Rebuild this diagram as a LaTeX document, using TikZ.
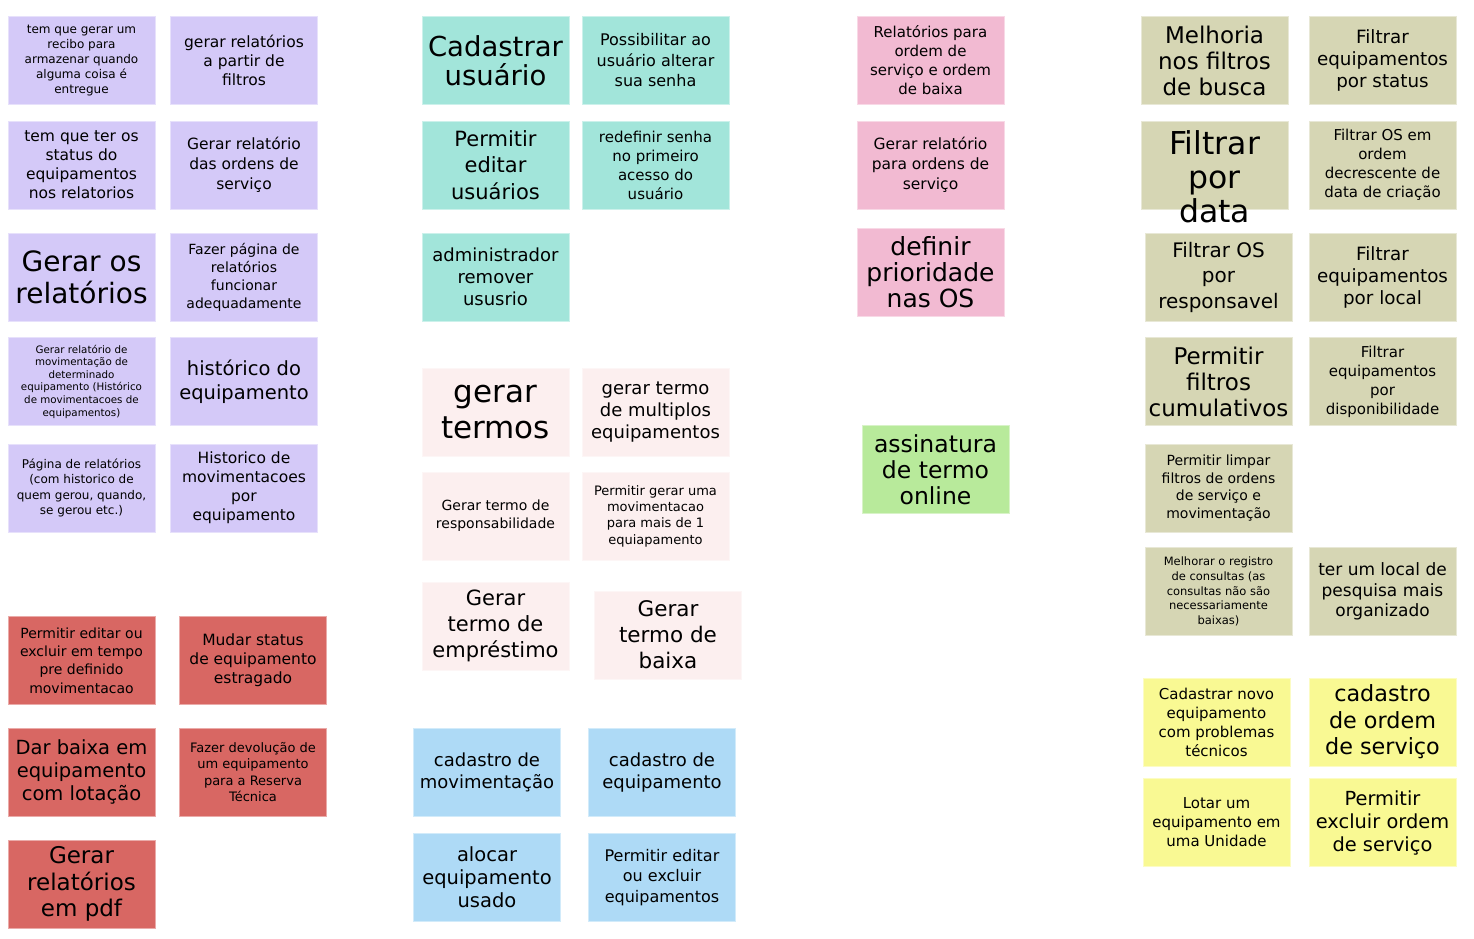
\documentclass[tikz,border=0pt]{standalone}
\usepackage{fontspec}
\setmainfont{DejaVu Sans}
\definecolor{cP}{HTML}{D4C9F8}
\definecolor{cT}{HTML}{A2E5DA}
\definecolor{cL}{HTML}{FCEFEF}
\definecolor{cB}{HTML}{AEDAF6}
\definecolor{cK}{HTML}{F2BAD2}
\definecolor{cG}{HTML}{B8EA9B}
\definecolor{cH}{HTML}{D6D6B4}
\definecolor{cY}{HTML}{F9F993}
\definecolor{cR}{HTML}{D86763}
\newcommand\fsz[2]{\fontsize{#1}{#2}\selectfont}
\tikzset{
  note/.style={rectangle, minimum width=147pt, minimum height=88pt, inner sep=0pt,
    align=center, text=black, fill=#1, draw=#1!55!white, line width=0.8pt},
  plain/.style={inner sep=0pt, align=center, text=black}
}
\begin{document}
\begin{tikzpicture}[x=1pt,y=-1pt]
\useasboundingbox (0,0) rectangle (1474,938);
\fill[white] (0,0) rectangle (1474,938);
% purple
\node[note=cP, font={\fsz{12}{15}}] (p1) at (81.5,60.5) {tem que gerar um\\recibo para\\armazenar quando\\alguma coisa é\\entregue};
\node[note=cP, font={\fsz{15.5}{19}}] (p2) at (244,60.5) {gerar relatórios\\a partir de\\filtros};
\node[note=cP, font={\fsz{15.5}{19}}] (p3) at (81.5,165) {tem que ter os\\status do\\equipamentos\\nos relatorios};
\node[note=cP, font={\fsz{15.5}{20}}] (p4) at (244,165) {Gerar relatório\\das ordens de\\serviço};
\node[note=cP, font={\fsz{28}{32}}] (p5) at (81.5,277) {Gerar os\\relatórios};
\node[note=cP, font={\fsz{14}{18}}] (p6) at (244,277) {Fazer página de\\relatórios\\funcionar\\adequadamente};
\node[note=cP, font={\fsz{10.3}{12.6}}] (p7) at (81.5,381.5) {Gerar relatório de\\movimentação de\\determinado\\equipamento (Histórico\\de movimentacoes de\\equipamentos)};
\node[note=cP, font={\fsz{19.5}{24}}] (p8) at (244,381.5) {histórico do\\equipamento};
\node[note=cP, font={\fsz{12}{15.3}}] (p9) at (81.5,488) {Página de relatórios\\(com historico de\\quem gerou, quando,\\se gerou etc.)};
\node[note=cP, font={\fsz{15.5}{19}}] (p10) at (244,488) {Historico de\\movimentacoes\\por\\equipamento};
% red
\node[note=cR, font={\fsz{14}{18.3}}] (r1) at (81.5,660.5) {Permitir editar ou\\excluir em tempo\\pre definido\\movimentacao};
\node[note=cR, font={\fsz{15.5}{19}}] (r2) at (253,660.5) {Mudar status\\de equipamento\\estragado};
\node[note=cR, font={\fsz{19.5}{23}}] (r3) at (81.5,772) {Dar baixa em\\equipamento\\com lotação};
\node[note=cR, font={\fsz{13}{16.3}}] (r4) at (253,772) {Fazer devolução de\\um equipamento\\para a Reserva\\Técnica};
\node[note=cR, font={\fsz{23}{26.5}}] (r5) at (81.5,884) {Gerar\\relatórios\\em pdf};
% teal
\node[note=cT, font={\fsz{27.5}{29}}] (t1) at (495.5,60.5) {Cadastrar\\usuário};
\node[note=cT, font={\fsz{16}{20.5}}] (t2) at (655.5,60.5) {Possibilitar ao\\usuário alterar\\sua senha};
\node[note=cT, font={\fsz{21}{26.5}}] (t3) at (495.5,165) {Permitir\\editar\\usuários};
\node[note=cT, font={\fsz{15}{19}}] (t4) at (655.5,165) {redefinir senha\\no primeiro\\acesso do\\usuário};
\node[note=cT, font={\fsz{18}{22}}] (t5) at (495.5,277) {administrador\\remover\\ususrio};
% light pink
\node[note=cL, font={\fsz{31}{36}}] (l1) at (495.5,412) {gerar\\termos};
\node[note=cL, font={\fsz{18}{22}}] (l2) at (655.5,412) {gerar termo\\de multiplos\\equipamentos};
\node[note=cL, font={\fsz{14}{18}}] (l3) at (495.5,516) {Gerar termo de\\responsabilidade};
\node[note=cL, font={\fsz{13}{16.3}}] (l4) at (655.5,516) {Permitir gerar uma\\movimentacao\\para mais de 1\\equiapamento};
\node[note=cL, font={\fsz{21}{26}}] (l5) at (495.5,626) {Gerar\\termo de\\empréstimo};
\node[note=cL, font={\fsz{21.5}{26}}] (l6) at (668,635) {Gerar\\termo de\\baixa};
% blue
\node[note=cB, font={\fsz{18}{22}}] (b1) at (487,772.5) {cadastro de\\movimentação};
\node[note=cB, font={\fsz{18}{22}}] (b2) at (662,772.5) {cadastro de\\equipamento};
\node[note=cB, font={\fsz{19.5}{23}}] (b3) at (487,877.5) {alocar\\equipamento\\usado};
\node[note=cB, font={\fsz{16}{20.5}}] (b4) at (662,877.5) {Permitir editar\\ou excluir\\equipamentos};
% pink
\node[note=cK, font={\fsz{15}{19}}] (k1) at (930.5,60.5) {Relatórios para\\ordem de\\serviço e ordem\\de baixa};
\node[note=cK, font={\fsz{15.5}{20}}] (k2) at (930.5,165) {Gerar relatório\\para ordens de\\serviço};
\node[note=cK, font={\fsz{25}{26}}] (k3) at (930.5,272) {definir\\prioridade\\nas OS};
% green
\node[note=cG, font={\fsz{23.5}{26}}] (g1) at (935.5,469.5) {assinatura\\de termo\\online};
% khaki
\node[note=cH, font={\fsz{23}{26}}] (h1) at (1214.5,60.5) {Melhoria\\nos filtros\\de busca};
\node[note=cH, font={\fsz{18.3}{22}}] (h2) at (1382.5,60.5) {Filtrar\\equipamentos\\por status};
\node[note=cH] (h3) at (1214.5,165) {};
\node[plain, font={\fsz{31.5}{34}}] (h3t) at (1214.5,177) {Filtrar\\por\\data};
\node[note=cH, font={\fsz{15}{19}}] (h4) at (1382.5,165) {Filtrar OS em\\ordem\\decrescente de\\data de criação};
\node[note=cH, font={\fsz{20}{25.5}}] (h5) at (1218.5,277) {Filtrar OS\\por\\responsavel};
\node[note=cH, font={\fsz{18.3}{22}}] (h6) at (1382.5,277) {Filtrar\\equipamentos\\por local};
\node[note=cH, font={\fsz{23}{26}}] (h7) at (1218.5,381.5) {Permitir\\filtros\\cumulativos};
\node[note=cH, font={\fsz{15}{19}}] (h8) at (1382.5,381.5) {Filtrar\\equipamentos\\por\\disponibilidade};
\node[note=cH, font={\fsz{14}{17.6}}] (h9) at (1218.5,488) {Permitir limpar\\filtros de ordens\\de serviço e\\movimentação};
\node[note=cH, font={\fsz{11.5}{14.8}}] (h10) at (1218.5,591.5) {Melhorar o registro\\de consultas (as\\consultas não são\\necessariamente\\baixas)};
\node[note=cH, font={\fsz{17}{20.5}}] (h11) at (1382.5,591.5) {ter um local de\\pesquisa mais\\organizado};
% yellow
\node[note=cY, font={\fsz{15}{19}}] (y1) at (1216.5,722) {Cadastrar novo\\equipamento\\com problemas\\técnicos};
\node[note=cY, font={\fsz{22.3}{26.5}}] (y2) at (1382.5,722) {cadastro\\de ordem\\de serviço};
\node[note=cY, font={\fsz{15}{19}}] (y3) at (1216.5,822.5) {Lotar um\\equipamento em\\uma Unidade};
\node[note=cY, font={\fsz{19.4}{23}}] (y4) at (1382.5,822.5) {Permitir\\excluir ordem\\de serviço};
\end{tikzpicture}
\end{document}
